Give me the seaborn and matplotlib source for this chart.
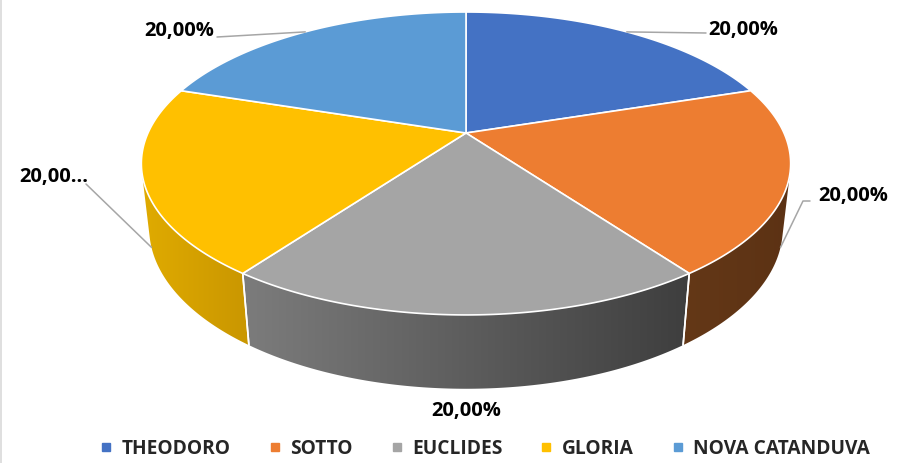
import numpy as np
import seaborn as sns
import matplotlib.pyplot as plt
from matplotlib.lines import Line2D
from matplotlib.patches import Polygon

# data
nomes = ["THEODORO", "SOTTO", "EUCLIDES", "GLORIA", "NOVA CATANDUVA"]
valores = [20, 20, 20, 20, 20]
cores = ["#4472C4", "#ED7D31", "#A5A5A5", "#FFC000", "#5B9BD5"]
# side colours (left end, right end of the visible wall)
lados = [("#2F528F", "#2F528F"), ("#643817", "#5C3214"), ("#7C7C7C", "#3E3E3E"),
         ("#E0AB00", "#C99600"), ("#41719C", "#41719C")]

sns.set_theme(style="white")
plt.rcParams["font.family"] = ["Open Sans", "DejaVu Sans"]

# 3d view (pixels)
CX, CY, ESC = 466, 133, 318
SIN_E = 0.457
COS_E = np.sqrt(1 - SIN_E ** 2)
DIST = 4.42
ALT = 0.23


def proj(theta, z=0.0):
    t = np.radians(theta)
    x, y = np.sin(t), np.cos(t)
    prof = y * COS_E - z * SIN_E
    Y = y * SIN_E + z * COS_E
    f = ESC / (1 + prof / DIST)
    return CX + x * f, CY - Y * f


fig = plt.figure(figsize=(9, 4.63), dpi=100)
ax = fig.add_axes([0, 0, 1, 1])
ax.axis("off")

total = sum(valores)
fim = np.cumsum(valores) / total * 360
ini = np.concatenate([[0], fim[:-1]])

# visible wall range
lim = np.degrees(np.arccos(-1 / (DIST * COS_E)))
vis0, vis1 = lim, 360 - lim

# walls (gradient image clipped to the wall outline)
for i in range(len(valores)):
    a0, a1 = max(ini[i], vis0), min(fim[i], vis1)
    if a1 <= a0:
        continue
    ts = np.linspace(a0, a1, 200)
    topo = [proj(t) for t in ts]
    base = [proj(t, -ALT) for t in ts[::-1]]
    contorno = np.array(topo + base)
    x_min, x_max = contorno[:, 0].min(), contorno[:, 0].max()
    y_min, y_max = contorno[:, 1].min(), contorno[:, 1].max()
    grad = np.array(sns.blend_palette(list(lados[i]), 256))[None, :, :3]
    parede = Polygon(contorno, closed=True, fc="none", ec="none", zorder=1)
    ax.add_patch(parede)
    im = ax.imshow(grad, extent=(x_min - 1, x_max + 1, y_max + 1, y_min - 1),
                   aspect="auto", interpolation="bilinear", zorder=1)
    im.set_clip_path(parede)
    for t in (a0, a1):
        if vis0 < t < vis1:
            pa, pb = proj(t), proj(t, -ALT)
            ax.plot([pa[0], pb[0]], [pa[1], pb[1]], color="white", lw=1.2, zorder=2)

# top
for i in range(len(valores)):
    ts = np.linspace(ini[i], fim[i], 120)
    pts = [proj(t) for t in ts]
    xs = [CX] + [q[0] for q in pts] + [CX]
    ys = [CY] + [q[1] for q in pts] + [CY]
    ax.fill(xs, ys, color=cores[i], ec="white", lw=1.2, zorder=3)

# labels
pct = [f"{v / total * 100:.2f}".replace(".", ",") + "%" for v in valores]
txt = pct[:]
txt[3] = pct[3][:5] + "…"
meio = (ini + fim) / 2
ancora = [proj(m, -ALT) if vis0 < m < vis1 else proj(m) for m in meio]

linhas = [[(706, 33)], [(803, 201), (810, 201)], [], [(86, 184)], [(217, 37)]]
pos = [(708, 30, "left"), (818, 196, "left"), (466, 411, "center"),
       (88, 177, "right"), (214, 31, "right")]
for i in range(len(valores)):
    if linhas[i]:
        cam = [ancora[i]] + linhas[i]
        ax.plot([q[0] for q in cam], [q[1] for q in cam], color="#A6A6A6", lw=1.1, zorder=4)
    ax.text(pos[i][0], pos[i][1], txt[i], ha=pos[i][2], va="center",
            fontsize=14.5, fontweight="bold", color="black", zorder=5)

ax.axvline(1, color="#D9D9D9", lw=1.2)
ax.set_xlim(0, 900)
ax.set_ylim(463, 0)

handles = [Line2D([], [], marker="s", ls="", color=c, markersize=5.5) for c in cores]
fig.legend(handles, nomes, loc="center", bbox_to_anchor=(0.537, 1 - 449 / 463), ncol=5,
           frameon=False, prop={"weight": "bold", "size": 13.8}, handletextpad=0.3,
           columnspacing=1.8, handlelength=1)

fig.savefig("out.png", dpi=100)
